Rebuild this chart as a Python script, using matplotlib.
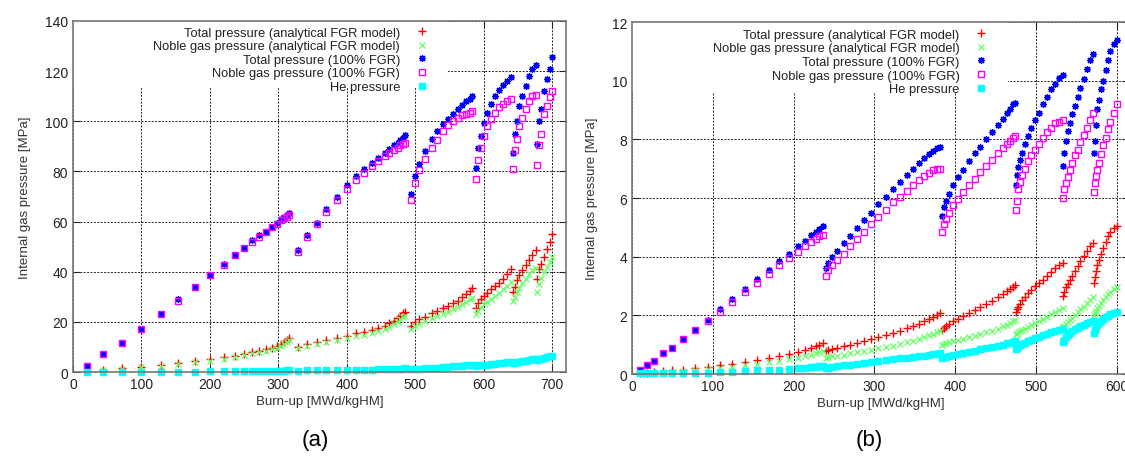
import matplotlib
matplotlib.use("Agg")
import matplotlib.pyplot as plt
from matplotlib.patches import Rectangle

plt.rcParams['font.family'] = ['Liberation Sans', 'DejaVu Sans']

# legend labels (same for both panels)
labels = ["Total pressure (analytical FGR model)",
          "Noble gas pressure (analytical FGR model)",
          "Total pressure (100% FGR)",
          "Noble gas pressure (100% FGR)",
          "He pressure"]

# ---- panel (a) ----
a_burnup = [20, 44, 72, 100, 128, 154, 178, 200, 220, 236, 250, 262, 272, 282, 290, 298, 304, 308, 312, 315,
            328, 342, 356, 370, 385, 400, 413, 425, 436, 446, 455, 462, 469, 474, 478, 482, 485,
            493, 500, 506, 514, 524, 532, 540, 548, 555, 562, 568, 574, 580, 583,
            588, 592, 596, 600, 605, 610, 616, 622, 628, 634, 640,
            642, 645, 648, 652, 656, 661, 666, 671, 676,
            678, 681, 684, 688, 692, 696, 700]
a_total_model = [0.5, 1, 1.5, 2, 2.8, 3.5, 4.2, 5, 5.8, 6.5, 7.2, 8, 8.5, 9.2, 9.7, 10.3, 11, 11.8, 12.8, 13.5,
                 10, 11, 12, 12.8, 13.5, 14.5, 15.5, 16, 16.8, 17.5, 18.5, 19.5, 20.5, 21.5, 22.5, 23.5, 24,
                 18.5, 20, 21, 22, 23.5, 24.5, 25.5, 26.5, 27.5, 28.5, 30, 31, 32.5, 33.5,
                 25.5, 27.5, 29, 30.5, 31.5, 33, 34.5, 35.5, 37, 39, 41,
                 32, 34, 36.5, 38.5, 40.5, 42.5, 44.5, 46.5, 48.5,
                 37, 41, 43, 46, 49, 52, 55]
a_noble_model = [0.4, 0.9, 1.3, 1.8, 2.5, 3.2, 3.8, 4.5, 5.3, 6, 6.7, 7.4, 7.9, 8.5, 9, 9.6, 10.2, 11, 12, 12.7,
                 9.5, 10.5, 11.3, 12, 12.7, 13.5, 14.3, 14.8, 15.5, 16.2, 17, 18, 19, 20, 21, 22, 22.5,
                 17, 18.5, 19.3, 20.2, 21.5, 22.3, 23.2, 24, 25, 26, 27, 28, 29, 29.5,
                 23, 24.5, 26, 27, 28, 29, 30.5, 31.5, 33, 34.5, 36,
                 28.5, 30, 32, 33.5, 35.5, 37, 39, 40.5, 41.5,
                 32, 35, 37.5, 40, 42, 44, 46]
a_total_100 = [2.5, 7, 11.5, 17, 23, 29, 34, 38.5, 43, 46.5, 49.5, 52.5, 54.5, 56, 58, 59.5, 61, 62, 62.5, 63.5,
               48.5, 54.5, 59.5, 65, 70, 74.5, 78, 81, 83.5, 85.5, 87.5, 89, 90.5, 91.5, 92.5, 93.5, 94.5,
               71, 78, 83, 88, 93, 96, 99, 101, 103, 105, 106.5, 108, 109, 110,
               81.5, 89.5, 94, 99.5, 103.5, 107, 110, 112.5, 114.5, 116, 117.5,
               87.5, 95, 100, 106, 110, 114, 118, 121, 122.5,
               91, 100, 105, 112, 117, 121, 125.5]
a_noble_100 = [2.5, 7, 11.5, 17, 23, 28.5, 34, 38.5, 42.5, 46.5, 49.5, 52, 54, 56, 58, 59, 60.5, 61.5, 62, 62.5,
               48, 54, 59, 64, 68.5, 73, 76.5, 79.5, 82, 84, 86, 87.5, 88.5, 89.5, 90.5, 91, 91.5,
               68.5, 75.5, 80.5, 85, 89.5, 92.5, 96, 98.5, 100, 101.5, 102.5, 103, 103.5, 104,
               77, 84.5, 89.5, 94, 98, 101, 103.5, 105.5, 107, 108, 109,
               81, 88.5, 93, 98, 101.5, 105, 108, 110, 110.5,
               82.5, 90.5, 95, 103, 106, 109.5, 112]
a_he = [0, 0, 0, 0.05, 0.1, 0.15, 0.2, 0.3, 0.35, 0.4, 0.4, 0.45, 0.45, 0.5, 0.5, 0.55, 0.6, 0.6, 0.65, 0.7,
        0.6, 0.65, 0.7, 0.75, 0.8, 0.85, 0.9, 0.95, 1.0, 1.05, 1.1, 1.15, 1.2, 1.25, 1.3, 1.35, 1.4,
        1.2, 1.3, 1.35, 1.45, 1.6, 1.75, 1.9, 2.05, 2.2, 2.35, 2.5, 2.6, 2.75, 2.85,
        2.5, 2.6, 2.7, 2.85, 2.95, 3.1, 3.3, 3.5, 3.7, 3.9, 4.1,
        3.6, 3.75, 3.9, 4.1, 4.3, 4.55, 4.8, 5.05, 5.3,
        4.8, 5.1, 5.3, 5.6, 5.9, 6.2, 6.5]

# ---- panel (b) ----
b_burnup = [10, 18, 27, 38, 50, 63, 78, 94, 109, 124, 140, 155, 169, 182, 194, 205, 214, 222, 228, 232, 236,
            240, 242, 247, 254, 262, 270, 279, 287, 296, 305, 314, 323, 332, 340, 348, 355, 361, 367, 372, 377, 381,
            384, 386, 388, 392, 397, 403, 410, 417, 424, 431, 438, 446, 453, 459, 464, 468, 472, 474,
            475, 476, 478, 480, 483, 486, 490, 494, 499, 504, 509, 514, 519, 524, 529, 533,
            534, 535, 537, 539, 542, 545, 548, 552, 555, 559, 563, 567, 571,
            572, 573, 574, 576, 578, 580, 583, 586, 589, 592, 596, 600]
b_total_model = [0.03, 0.05, 0.07, 0.09, 0.12, 0.15, 0.2, 0.25, 0.3, 0.35, 0.4, 0.47, 0.55, 0.6, 0.68, 0.75, 0.82, 0.9, 0.95, 1.0, 1.05,
                 0.8, 0.82, 0.86, 0.9, 0.95, 1.0, 1.06, 1.12, 1.18, 1.25, 1.32, 1.4, 1.48, 1.56, 1.64, 1.72, 1.8, 1.88, 1.95, 2.02, 2.08,
                 1.5, 1.58, 1.65, 1.72, 1.8, 1.88, 1.97, 2.07, 2.17, 2.28, 2.38, 2.5, 2.62, 2.72, 2.82, 2.9, 2.98, 3.02,
                 2.1, 2.2, 2.3, 2.4, 2.52, 2.63, 2.75, 2.88, 3.0, 3.1, 3.22, 3.35, 3.48, 3.6, 3.72, 3.8,
                 2.65, 2.8, 2.95, 3.08, 3.22, 3.35, 3.5, 3.68, 3.85, 4.02, 4.2, 4.38, 4.48,
                 3.1, 3.3, 3.5, 3.7, 3.9, 4.1, 4.3, 4.5, 4.7, 4.85, 4.98, 5.05]
b_noble_model = [0.02, 0.03, 0.04, 0.06, 0.08, 0.1, 0.13, 0.17, 0.21, 0.25, 0.3, 0.35, 0.4, 0.45, 0.5, 0.55, 0.6, 0.66, 0.7, 0.74, 0.78,
                 0.55, 0.57, 0.6, 0.63, 0.66, 0.7, 0.74, 0.78, 0.82, 0.87, 0.92, 0.97, 1.02, 1.08, 1.14, 1.2, 1.26, 1.32, 1.37, 1.42, 1.47,
                 1.0, 1.03, 1.06, 1.09, 1.12, 1.16, 1.2, 1.25, 1.3, 1.36, 1.42, 1.48, 1.55, 1.62, 1.68, 1.74, 1.8, 1.85,
                 1.35, 1.38, 1.42, 1.46, 1.5, 1.55, 1.6, 1.66, 1.73, 1.8, 1.87, 1.95, 2.03, 2.1, 2.18, 2.25,
                 1.6, 1.65, 1.72, 1.78, 1.85, 1.92, 2.0, 2.1, 2.2, 2.3, 2.42, 2.53, 2.62,
                 2.0, 2.08, 2.15, 2.25, 2.33, 2.42, 2.52, 2.62, 2.72, 2.8, 2.9, 2.97]
b_total_100 = [0.15, 0.3, 0.45, 0.7, 0.9, 1.2, 1.5, 1.85, 2.2, 2.55, 2.9, 3.25, 3.55, 3.85, 4.1, 4.35, 4.55, 4.75, 4.85, 4.95, 5.05,
               3.6, 3.8, 4.0, 4.2, 4.45, 4.7, 4.98, 5.25, 5.5, 5.8, 6.05, 6.3, 6.55, 6.8, 7.0, 7.2, 7.35, 7.5, 7.6, 7.7, 7.75,
               5.4, 5.7, 5.9, 6.15, 6.45, 6.7, 6.95, 7.25, 7.55, 7.75, 8.0, 8.25, 8.5, 8.7, 8.9, 9.05, 9.2, 9.25,
               6.45, 6.8, 7.05, 7.3, 7.55, 7.85, 8.1, 8.4, 8.65, 8.9, 9.2, 9.45, 9.7, 9.9, 10.1, 10.2,
               7.1, 7.55, 7.95, 8.3, 8.55, 8.85, 9.15, 9.45, 9.75, 10.05, 10.4, 10.7, 10.9,
               7.55, 7.95, 8.5, 9.05, 9.35, 9.7, 10.0, 10.35, 10.7, 11.0, 11.25, 11.4]
b_noble_100 = [0.15, 0.3, 0.45, 0.7, 0.9, 1.2, 1.5, 1.8, 2.1, 2.45, 2.8, 3.1, 3.4, 3.7, 3.95, 4.15, 4.35, 4.5, 4.6, 4.7, 4.75,
               3.35, 3.55, 3.7, 3.9, 4.1, 4.35, 4.6, 4.85, 5.1, 5.35, 5.6, 5.85, 6.05, 6.25, 6.45, 6.6, 6.75, 6.85, 6.95, 7.0, 7.0,
               4.85, 5.1, 5.3, 5.5, 5.75, 5.95, 6.2, 6.45, 6.65, 6.9, 7.1, 7.3, 7.55, 7.7, 7.85, 7.95, 8.05, 8.1,
               5.6, 5.9, 6.3, 6.55, 6.8, 7.0, 7.25, 7.45, 7.65, 7.85, 8.05, 8.25, 8.4, 8.55, 8.6, 8.65,
               6.0, 6.3, 6.5, 6.7, 6.95, 7.2, 7.45, 7.65, 7.9, 8.15, 8.4, 8.65, 8.9,
               6.2, 6.5, 6.75, 6.95, 7.2, 7.5, 7.8, 8.05, 8.35, 8.6, 8.9, 9.2]
b_he = [0.02, 0.02, 0.02, 0.02, 0.03, 0.04, 0.05, 0.05, 0.06, 0.08, 0.1, 0.12, 0.13, 0.15, 0.17, 0.2, 0.22, 0.24, 0.25, 0.26, 0.27,
        0.2, 0.21, 0.23, 0.26, 0.29, 0.32, 0.35, 0.38, 0.41, 0.44, 0.47, 0.5, 0.53, 0.56, 0.58, 0.61, 0.63, 0.65, 0.67, 0.69, 0.7,
        0.55, 0.57, 0.59, 0.62, 0.65, 0.68, 0.72, 0.76, 0.8, 0.84, 0.88, 0.92, 0.96, 1.0, 1.04, 1.07, 1.1, 1.12,
        0.85, 0.9, 0.95, 0.99, 1.03, 1.07, 1.12, 1.17, 1.22, 1.27, 1.32, 1.37, 1.42, 1.46, 1.5, 1.53,
        1.1, 1.17, 1.25, 1.32, 1.4, 1.46, 1.52, 1.58, 1.63, 1.68, 1.73, 1.78, 1.82,
        1.4, 1.5, 1.6, 1.68, 1.75, 1.82, 1.88, 1.94, 1.99, 2.03, 2.07, 2.1]

# marker style per series: marker, color, filled
styles = [("+", "#ff0000", True),
          ("x", "#66ff66", True),
          ((8, 2, 0), "#0000ff", True),
          ("s", "#ff00ff", False),
          ("s", "#00ffff", True)]


def draw_panel(ax, x, series, xmax, ymax, ystep, leg_anchor, key_box):
    for y, (m, c, filled), lab in zip(series, styles, labels):
        if m == "s":
            ax.plot(x, y, ls="none", marker="s", ms=4.5, mew=1.0, mec=c,
                    mfc=c if filled else "none", label=lab, clip_on=False)
        elif m == "+":
            ax.plot(x, y, ls="none", marker=m, ms=5.5, mew=1.0, color=c, label=lab, clip_on=False)
        else:
            ax.plot(x, y, ls="none", marker=m, ms=5.0, mew=0.9, color=c, label=lab, clip_on=False)
    ax.set_xlim(0, xmax)
    ax.set_ylim(0, ymax)
    ax.set_yticks(range(0, ymax + 1, ystep))
    ax.set_xticks(range(0, int(xmax) + 1, 100))
    ax.grid(True, color="#222222", linestyle=(0, (2, 1.5)), linewidth=0.7)
    ax.set_axisbelow(True)
    # white key area hides the grid, as in the gnuplot original
    ax.add_patch(Rectangle((0, key_box[1]), key_box[0], 1 - key_box[1], transform=ax.transAxes,
                           facecolor="white", edgecolor="none", zorder=0.8))
    ax.tick_params(direction="in", top=True, right=True, length=5, labelsize=10, colors="#222222")
    for s in ax.spines.values():
        s.set_color("#777777")
        s.set_linewidth(1.2)
        s.set_zorder(3)
    ax.set_xlabel("Burn-up [MWd/kgHM]", fontsize=9.5, color="#333333", labelpad=3)
    ax.set_ylabel("Internal gas pressure [MPa]", fontsize=9.5, color="#333333", labelpad=10)
    leg = ax.legend(loc="upper right", bbox_to_anchor=leg_anchor, markerfirst=False,
                    fontsize=9.3, labelspacing=0.12, handlelength=1.0, handletextpad=1.2,
                    borderpad=0.3, borderaxespad=0.0, frameon=False)
    for t in leg.get_texts():
        t.set_color("#222222")
        t.set_ha("right")


fig = plt.figure(figsize=(11.25, 4.64), dpi=100)
ax1 = fig.add_axes([0.0649, 0.1961, 0.4382, 0.7565])
ax2 = fig.add_axes([0.5618, 0.1918, 0.4417, 0.7586])

draw_panel(ax1, a_burnup, [a_total_model, a_noble_model, a_total_100, a_noble_100, a_he],
           720, 140, 20, (0.729, 0.995), (0.76, 0.812))
draw_panel(ax2, b_burnup, [b_total_model, b_noble_model, b_total_100, b_noble_100, b_he],
           615, 12, 2, (0.724, 0.992), (0.757, 0.80))
ax2.spines["right"].set_visible(False)

fig.text(0.28, 0.05, "(a)", fontsize=16, ha="center", va="center")
fig.text(0.773, 0.05, "(b)", fontsize=16, ha="center", va="center")

fig.savefig("out.png", dpi=100)
